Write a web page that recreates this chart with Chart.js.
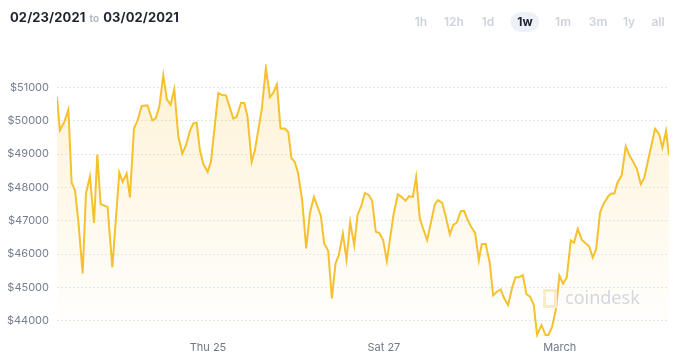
<!DOCTYPE html>
<html>
<head>
<meta charset="utf-8">
<script src="https://cdn.jsdelivr.net/npm/chart.js@4.4.0/dist/chart.umd.min.js"></script>
<style>
  body { margin: 0; background: #fff; font-family: Inter, "Noto Sans", sans-serif; }
  #wrap { position: relative; width: 690px; height: 364px; overflow: hidden; }
  #chart { position: absolute; left: 0; top: 0; }
  .range { position: absolute; left: 10px; top: 9px; font-size: 13px; font-weight: 700; color: #1e2430; letter-spacing: 0.1px; }
  .range .to { font-size: 10px; font-weight: 600; color: #a9b0bd; margin: 0 4px; }
  .btn { position: absolute; top: 12px; height: 20px; line-height: 20px; font-size: 12px; font-weight: 600; color: #cdd3dd; transform: translateX(-50%); text-align: center; }
  .btn.on { color: #1e2430; font-weight: 700; background: #eef2f8; border-radius: 10px; padding: 0 7px; }
  .mark { position: absolute; left: 543px; top: 289px; width: 8px; height: 13px; border: 3px solid #f9ebc4; border-left-style: dashed; }
  .brand { position: absolute; left: 565px; top: 285px; font-size: 18px; color: #d3d7de; font-family: "Noto Sans", sans-serif; }
</style>
</head>
<body>
<div id="wrap">
  <canvas id="chart" width="690" height="364"></canvas>
  <div class="range">02/23/2021<span class="to">to</span>03/02/2021</div>
  <div id="btns"></div>
  <div class="mark"></div>
  <div class="brand">coindesk</div>
</div>
<script>
// hours since start of the week window, and BTC price at each hour
const hours = [0,0.8,2.0,3.1,4.0,4.9,5.8,7.0,7.9,9.0,10.1,11.0,11.9,13.8,15.1,17.0,17.9,19.0,19.9,21.0,22.0,23.1,24.7,26.0,26.9,27.9,29.0,30.0,31.0,32.0,33.1,34.2,35.2,36.3,37.2,38.1,39.0,39.9,41.1,42.0,44.0,45.1,46.1,48.1,49.0,50.2,51.1,52.0,53.1,54.0,55.9,57.0,58.1,59.0,60.0,61.0,62.2,63.1,64.0,64.9,65.8,66.9,68.0,69.0,70.1,71.0,72.0,72.9,74.0,75.0,76.0,76.9,78.0,79.0,80.0,81.1,82.0,83.1,84.0,85.1,86.0,87.0,87.9,89.0,90.0,91.8,93.0,94.0,95.1,96.1,97.1,98.0,99.0,99.9,101.0,103.1,104.0,105.1,106.1,107.2,108.1,109.1,110.2,111.1,112.0,113.0,114.1,115.1,115.9,117.0,118.1,119.0,120.0,121.1,122.0,123.1,124.2,125.1,126.1,127.1,128.1,129.1,130.1,131.0,132.2,133.3,134.1,135.1,136.1,137.1,138.1,139.1,140.2,141.1,142.1,143.2,144.1,145.2,146.2,147.1,148.2,149.2,150.3,151.2,152.1,152.9,154.1,155.2,156.2,157.1,158.2,159.3,160.2,161.3,163.2,164.3,165.2,166.2,167];
const prices = [50710,49712,49961,50332,48134,47915,47017,45420,47816,48334,46936,48984,47496,47415,45600,48445,48164,48415,47697,49763,50012,50440,50461,50012,50063,50410,51359,50632,50482,50940,49532,49014,49263,49712,49913,49943,49113,48715,48463,48763,50829,50769,50760,50063,50110,50530,50530,50110,48763,49113,50362,51590,50710,50829,51090,49763,49763,49661,48865,48763,48415,47616,46169,47217,47715,47445,47145,46319,46097,44672,45720,45968,46618,45840,46966,46268,47166,47466,47834,47765,47595,46666,46636,46418,45789,47166,47786,47715,47595,47735,47715,48314,47068,46768,46418,47496,47616,47535,47116,46597,46867,46948,47286,47295,47038,46816,46636,45819,46298,46298,45720,44761,44869,44941,44672,44471,44995,45301,45301,45369,44794,44720,44471,43572,43872,43572,43572,43812,44321,45354,45109,45295,46409,46343,46756,46433,46337,46232,45894,46139,47250,47517,47715,47816,47816,48134,48364,49233,48963,48793,48565,48095,48266,48814,49763,49592,49194,49691,48963];

const yTicks = [44000, 45000, 46000, 47000, 48000, 49000, 50000, 51000];
const xTickHours = [41.2, 89.2, 137.2];
const xTickLabels = ['Thu 25', 'Sat 27', 'March'];

const rangeButtons = ['1h', '12h', '1d', '1w', '1m', '3m', '1y', 'all'];
const rangeCenters = [421, 454, 488, 525, 563, 598, 629, 658];
const activeRange = '1w';

const btns = document.getElementById('btns');
rangeButtons.forEach((b, i) => {
    const d = document.createElement('div');
    d.className = 'btn' + (b === activeRange ? ' on' : '');
    d.style.left = rangeCenters[i] + 'px';
    d.textContent = b;
    btns.appendChild(d);
});

const points = hours.map((h, i) => ({ x: h, y: prices[i] }));

const ctx = document.getElementById('chart').getContext('2d');
new Chart(ctx, {
    type: 'line',
    data: {
        datasets: [{
            data: points,
            borderColor: '#f5c12f',
            borderWidth: 2,
            pointRadius: 0,
            tension: 0,
            fill: 'start',
            backgroundColor: function(context) {
                const area = context.chart.chartArea;
                if (!area) return 'rgba(247,196,60,0.15)';
                const g = context.chart.ctx.createLinearGradient(0, area.top, 0, area.bottom);
                g.addColorStop(0, 'rgba(247,196,60,0.22)');
                g.addColorStop(1, 'rgba(247,196,60,0)');
                return g;
            }
        }]
    },
    options: {
        responsive: false,
        animation: false,
        devicePixelRatio: 1,
        layout: { padding: { top: 64, right: 21, left: 0, bottom: 0 } },
        plugins: { legend: { display: false }, tooltip: { enabled: false } },
        scales: {
            x: {
                type: 'linear',
                min: 0,
                max: 167,
                grid: { display: false, drawTicks: false },
                border: { display: false },
                afterBuildTicks: (scale) => { scale.ticks = xTickHours.map(v => ({ value: v })); },
                afterFit: (scale) => { scale.height = 26.6; },
                ticks: {
                    padding: 4,
                    color: '#6f7888',
                    font: { family: 'Inter, "Noto Sans", sans-serif', size: 11 },
                    maxRotation: 0,
                    callback: (v) => xTickLabels[xTickHours.indexOf(v)]
                }
            },
            y: {
                min: 43500,
                max: 51700,
                grid: { color: '#e3e6ed', lineWidth: 1, drawTicks: false },
                border: { display: false, dash: [2, 2] },
                afterBuildTicks: (scale) => { scale.ticks = yTicks.map(v => ({ value: v })); },
                afterFit: (scale) => { scale.width = 57; },
                ticks: {
                    padding: 8,
                    color: '#767f90',
                    font: { family: 'Inter, "Noto Sans", sans-serif', size: 11 },
                    callback: (v) => '$' + v
                }
            }
        }
    }
});
</script>
</body>
</html>
